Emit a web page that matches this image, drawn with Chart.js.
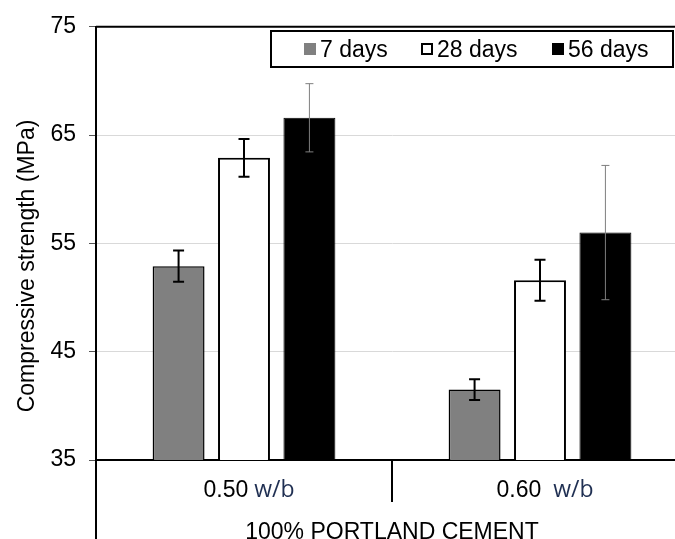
<!DOCTYPE html>
<html>
<head>
<meta charset="utf-8">
<script src="https://cdn.jsdelivr.net/npm/chart.js@4.4.1/dist/chart.umd.min.js"></script>
<style>
  html, body { margin: 0; padding: 0; background: #fff; overflow: hidden; }
  #wrap { width: 700px; height: 539px; }
</style>
</head>
<body>
<div id="wrap"><canvas id="c" width="700" height="539"></canvas></div>
<script>
// Compressive strength of 100% Portland cement mixes at two w/b ratios
const categories = ['0.50 w/b', '0.60  w/b'];
const groupLabel = '100% PORTLAND CEMENT';
const seriesNames = ['7 days', '28 days', '56 days'];
const days7 = [52.9, 41.5];
const days28 = [62.9, 51.6];
const days56 = [66.6, 56.0];
const err7 = [1.45, 0.95];
const err28 = [1.75, 1.9];
const err56 = [3.15, 6.2];
const yTicks = [35, 45, 55, 65, 75];
const yTitle = 'Compressive strength (MPa)';

const FONT = '"Liberation Sans", Arial, sans-serif';
const FS = 23;

// Error bars drawn on top of each bar from the dataset's own error values
const errorBarPlugin = {
  id: 'errorBars',
  afterDatasetsDraw(chart) {
    const ctx = chart.ctx;
    const y = chart.scales.y;
    chart.data.datasets.forEach((ds, i) => {
      const meta = chart.getDatasetMeta(i);
      if (!ds.errors) return;
      meta.data.forEach((bar, j) => {
        const v = ds.data[j], e = ds.errors[j];
        const yTop = y.getPixelForValue(v + e);
        const yBot = y.getPixelForValue(v - e);
        const x = bar.x;
        ctx.save();
        ctx.strokeStyle = ds.errorColor;
        ctx.lineWidth = ds.errorWidth;
        ctx.beginPath();
        ctx.moveTo(x, yTop); ctx.lineTo(x, yBot);
        ctx.moveTo(x - ds.capHalf, yTop); ctx.lineTo(x + ds.capHalf, yTop);
        ctx.moveTo(x - ds.capHalf, yBot); ctx.lineTo(x + ds.capHalf, yBot);
        ctx.stroke();
        ctx.restore();
      });
    });
  }
};

// Frame, category axis with group label, axis title and boxed legend
const decorPlugin = {
  id: 'decor',
  afterDraw(chart) {
    const ctx = chart.ctx;
    const area = chart.chartArea;
    const xs = chart.scales.x;
    const H = chart.height;
    ctx.save();

    // top frame line and left line running down through the category rows
    ctx.strokeStyle = '#000';
    ctx.lineWidth = 2;
    ctx.beginPath();
    ctx.moveTo(area.left, area.top); ctx.lineTo(area.right, area.top);
    ctx.moveTo(area.left, area.top); ctx.lineTo(area.left, H);
    ctx.stroke();

    // separator between the two categories
    const sep = (xs.getPixelForValue(0) + xs.getPixelForValue(1)) / 2;
    ctx.beginPath();
    ctx.moveTo(sep, area.bottom); ctx.lineTo(sep, area.bottom + 42);
    ctx.stroke();

    // category labels: ratio in Arial, "w/b" in a second face
    ctx.textBaseline = 'alphabetic';
    categories.forEach((lab, i) => {
      const k = lab.indexOf(' ');
      const num = lab.slice(0, k);
      const rest = lab.slice(k);
      ctx.font = FS + 'px ' + FONT;
      const w1 = ctx.measureText(num).width;
      ctx.font = FS + 'px "Open Sans", sans-serif';
      const w2 = ctx.measureText(rest).width;
      const cx = xs.getPixelForValue(i) + 5;
      const x0 = cx - (w1 + w2) / 2;
      ctx.font = FS + 'px ' + FONT;
      ctx.fillStyle = '#000';
      ctx.textAlign = 'left';
      ctx.fillText(num, x0, area.bottom + 37);
      ctx.font = FS + 'px "Open Sans", sans-serif';
      ctx.fillStyle = '#1f2f52';
      ctx.fillText(rest, x0 + w1, area.bottom + 37);
    });

    // group label below the categories
    ctx.font = FS + 'px ' + FONT;
    ctx.fillStyle = '#000';
    ctx.textAlign = 'center';
    ctx.fillText(groupLabel, sep, area.bottom + 79);

    // y axis title
    ctx.save();
    ctx.translate(28, 266);
    ctx.rotate(-Math.PI / 2);
    ctx.textAlign = 'center';
    ctx.textBaseline = 'middle';
    ctx.font = FS + 'px ' + FONT;
    ctx.fillText(yTitle, 0, 0);
    ctx.restore();

    // legend box
    const lx = 271, ly = 31, lw = 402, lh = 36;
    ctx.lineWidth = 2;
    ctx.strokeStyle = '#000';
    ctx.fillStyle = '#fff';
    ctx.fillRect(lx, ly, lw, lh);
    ctx.strokeRect(lx, ly, lw, lh);
    const markerX = [304, 421, 552];
    ctx.font = FS + 'px ' + FONT;
    ctx.textAlign = 'left';
    chart.data.datasets.forEach((ds, i) => {
      const mx = markerX[i], my = 43, ms = 12;
      ctx.fillStyle = ds.backgroundColor;
      ctx.fillRect(mx, my, ms, ms);
      if (ds.backgroundColor === '#ffffff') {
        ctx.lineWidth = 2;
        ctx.strokeStyle = '#000';
        ctx.strokeRect(mx + 1, my + 1, ms - 2, ms - 2);
      }
      ctx.fillStyle = '#000';
      ctx.fillText(ds.label, mx + ms + 4, 57);
    });
    ctx.restore();
  }
};

new Chart(document.getElementById('c'), {
  type: 'bar',
  data: {
    labels: categories,
    datasets: [
      { label: seriesNames[0], data: days7, errors: err7,
        backgroundColor: '#808080', borderColor: '#000', borderWidth: 1.5,
        errorColor: '#000', errorWidth: 2, capHalf: 5.5 },
      { label: seriesNames[1], data: days28, errors: err28,
        backgroundColor: '#ffffff', borderColor: '#000', borderWidth: 2,
        errorColor: '#000', errorWidth: 2, capHalf: 5.5 },
      { label: seriesNames[2], data: days56, errors: err56,
        backgroundColor: '#000000', borderColor: '#000', borderWidth: 1,
        errorColor: '#7f7f7f', errorWidth: 1, capHalf: 4 }
    ]
  },
  options: {
    responsive: false,
    animation: false,
    devicePixelRatio: 1,
    layout: { padding: { top: 22, right: 12, bottom: 0, left: 0 } },
    datasets: {
      bar: { categoryPercentage: 0.663, barPercentage: 0.794, borderSkipped: false }
    },
    plugins: {
      legend: { display: false },
      tooltip: { enabled: false }
    },
    scales: {
      x: {
        type: 'category',
        grid: { display: false },
        ticks: { display: false },
        border: { display: true, color: '#000', width: 2 },
        afterFit(scale) { scale.height = 79; }
      },
      y: {
        min: yTicks[0],
        max: yTicks[yTicks.length - 1],
        afterBuildTicks(scale) { scale.ticks = yTicks.map(v => ({ value: v })); },
        ticks: {
          color: '#000',
          font: { family: FONT, size: FS },
          padding: 13
        },
        grid: {
          color: (c) => (c.tick && (c.tick.value === yTicks[0] || c.tick.value === yTicks[yTicks.length - 1])) ? 'rgba(0,0,0,0)' : '#d9d9d9',
          lineWidth: 1,
          tickColor: '#555',
          tickLength: 7,
          drawTicks: true
        },
        border: { display: true, color: '#000', width: 2 },
        afterFit(scale) { scale.width = 96; }
      }
    }
  },
  plugins: [errorBarPlugin, decorPlugin]
});
</script>
</body>
</html>
